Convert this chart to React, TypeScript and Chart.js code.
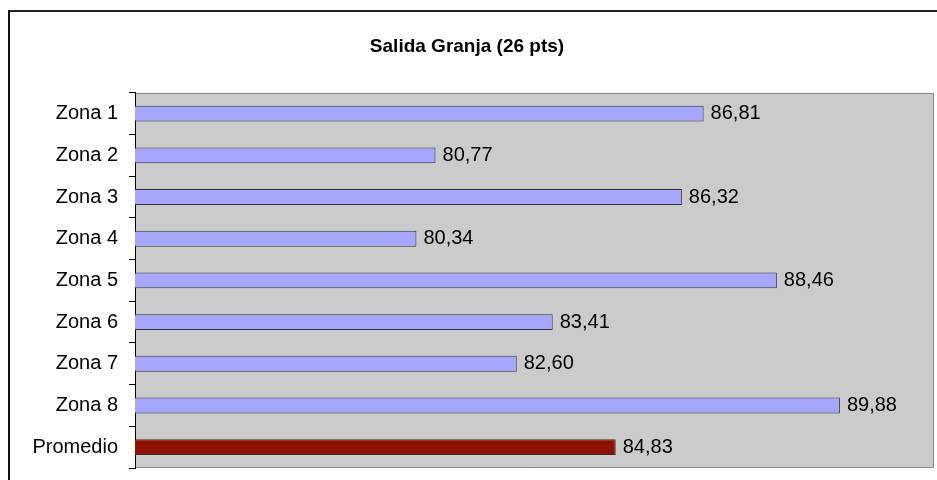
import React, { useEffect, useRef } from "react";
import { Chart, registerables } from "chart.js";

Chart.register(...registerables);

const title = "Salida Granja (26 pts)";
const categories = ["Zona 1", "Zona 2", "Zona 3", "Zona 4", "Zona 5", "Zona 6", "Zona 7", "Zona 8", "Promedio"];
const values = [86.81, 80.77, 86.32, 80.34, 88.46, 83.41, 82.6, 89.88, 84.83];
const axisMin = 74;
const axisMax = 92;

const FONT = "'Liberation Sans', Arial, sans-serif";

const plotBg = {
  id: "plotBg",
  beforeDraw(chart: any) {
    const { ctx, chartArea } = chart;
    const left = chartArea.left;
    const right = chartArea.right;
    const top = chartArea.top;
    const bottom = chartArea.bottom;
    ctx.save();
    ctx.fillStyle = "#CBCBCB";
    ctx.fillRect(left, top, right - left, bottom - top);
    ctx.strokeStyle = "#8a8a8a";
    ctx.lineWidth = 1;
    ctx.beginPath();
    ctx.moveTo(left, Math.round(top) + 0.5);
    ctx.lineTo(right - 0.5, Math.round(top) + 0.5);
    ctx.lineTo(right - 0.5, bottom - 0.5);
    ctx.lineTo(left, bottom - 0.5);
    ctx.stroke();
    ctx.restore();
  },
};

const valueLabels = {
  id: "valueLabels",
  afterDatasetsDraw(chart: any) {
    const { ctx } = chart;
    const meta = chart.getDatasetMeta(0);
    ctx.save();
    ctx.font = `20px ${FONT}`;
    ctx.fillStyle = "#000";
    ctx.textAlign = "left";
    ctx.textBaseline = "middle";
    meta.data.forEach((bar: any, i: number) => {
      const txt = values[i].toFixed(2).replace(".", ",");
      ctx.fillText(txt, bar.x + 7, bar.y);
    });
    ctx.restore();
  },
};

export default function App() {
  const ref = useRef<HTMLCanvasElement>(null);
  useEffect(() => {
    if (!ref.current) return;
    const colors = categories.map((c) => (c === "Promedio" ? "#8F1200" : "#A6A6FF"));
    const chart = new Chart(ref.current, {
      type: "bar",
      data: {
        labels: categories,
        datasets: [
          {
            data: values,
            backgroundColor: colors,
            borderColor: "#333333",
            borderWidth: 1,
            borderSkipped: false,
            barPercentage: 0.38,
            categoryPercentage: 1,
          },
        ],
      },
      options: {
        indexAxis: "y",
        responsive: false,
        animation: false,
        layout: { padding: { left: 0, right: 3, top: 0, bottom: 12 } },
        plugins: {
          legend: { display: false },
          tooltip: { enabled: false },
          title: {
            display: true,
            text: title,
            color: "#000",
            font: { family: FONT, size: 19, weight: "bold" },
            padding: { top: 35, bottom: 35 },
          },
        },
        scales: {
          x: {
            display: false,
            min: axisMin,
            max: axisMax,
          },
          y: {
            offset: true,
            afterFit(scale: any) {
              scale.width = 135;
              scale.paddingTop = 0;
              scale.paddingBottom = 0;
            },
            grid: {
              display: true,
              offset: true,
              drawOnChartArea: false,
              drawTicks: true,
              tickLength: 6,
              color: "#000",
            },
            border: { display: true, color: "#000", width: 1 },
            ticks: {
              color: "#000",
              padding: 11,
              font: { family: FONT, size: 20 },
            },
          },
        },
      },
      plugins: [plotBg, valueLabels],
    });
    return () => chart.destroy();
  }, []);

  return (
    <div style={{ position: "fixed", left: 0, top: 0, width: 937, height: 480, background: "#fff", overflow: "hidden" }}>
      <canvas ref={ref} width={937} height={480} style={{ position: "absolute", left: 0, top: 0 }} />
      <div
        style={{
          position: "absolute",
          left: 8,
          top: 10,
          width: 1000,
          height: 600,
          borderTop: "2px solid #222",
          borderLeft: "2px solid #111",
          pointerEvents: "none",
        }}
      />
    </div>
  );
}
